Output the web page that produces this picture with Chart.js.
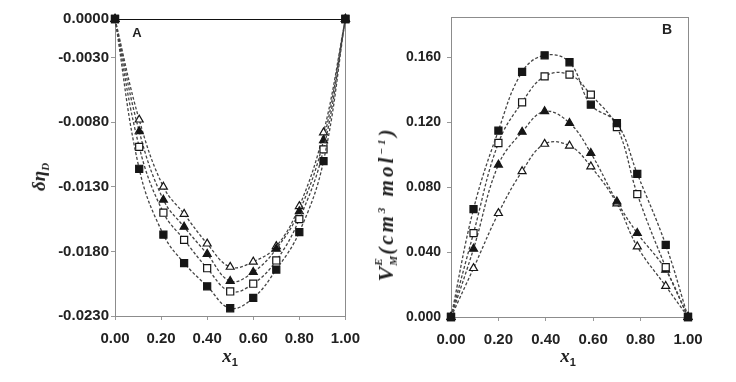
<!DOCTYPE html>
<html><head><meta charset="utf-8">
<script src="https://cdn.jsdelivr.net/npm/chart.js@4"></script>
<style>
html,body{margin:0;padding:0;background:#fff;}
#wrap{position:relative;width:736px;height:382px;overflow:hidden;background:#fff;}
canvas{position:absolute;top:0;}
#cA{left:0;}
#cB{left:370px;}
.lbl{position:absolute;font-family:"Liberation Sans",Arial,sans-serif;font-weight:bold;color:#222;white-space:nowrap;line-height:1;}
.math{font-family:"Liberation Serif","Times New Roman",serif;font-style:italic;font-weight:bold;}
.rot{transform:translate(-50%,-50%) rotate(-90deg);}
.ctr{transform:translate(-50%,-50%);}
.ss{position:relative;display:inline-block;width:12px;height:10px;font-size:11px;}
.ss .e{position:absolute;left:1px;top:-10px;}
.ss .m{position:absolute;left:1px;top:5px;}
sub,sup{font-size:11px;}
</style></head>
<body>
<div id="wrap">
<canvas id="cA" width="370" height="382"></canvas>
<canvas id="cB" width="366" height="382"></canvas>
<div class="lbl ctr" style="left:137px;top:32px;font-size:13px;">A</div>
<div class="lbl ctr" style="left:667px;top:29px;font-size:14px;">B</div>
<div class="lbl ctr" style="left:230px;top:357px;"><span class="math" style="font-size:19px;">x</span><sub style="font-size:11px;">1</sub></div>
<div class="lbl ctr" style="left:568px;top:357px;"><span class="math" style="font-size:19px;">x</span><sub style="font-size:11px;">1</sub></div>
<div class="lbl rot" style="left:40px;top:177px;"><span class="math" style="font-size:19px;">δη</span><sub class="math" style="font-size:11px;">D</sub></div>
<div class="lbl rot" style="left:386px;top:204px;"><span class="math" style="font-size:22px;">V</span><span class="ss math"><span class="e">E</span><span class="m">M</span></span><span class="math" style="font-size:21px;letter-spacing:3px;">(cm<sup>3</sup> mol<sup>−1</sup>)</span></div>
</div>
<script>
// ---- Panel A data (δη_D vs x1) ----
const xA = [0, 0.105, 0.21, 0.30, 0.40, 0.50, 0.60, 0.70, 0.80, 0.905, 1.0];
const aFilledSquare = [0, -0.0116, -0.0167, -0.0189, -0.0207, -0.0224, -0.0216, -0.0194, -0.0165, -0.0110, 0];
const aOpenSquare   = [0, -0.0099, -0.0150, -0.0171, -0.0193, -0.0211, -0.0205, -0.0187, -0.0155, -0.0101, 0];
const aFilledTri    = [0, -0.0087, -0.0140, -0.0161, -0.0182, -0.0203, -0.0196, -0.0178, -0.0149, -0.0094, 0];
const aOpenTri      = [0, -0.0078, -0.0130, -0.0151, -0.0174, -0.0192, -0.0188, -0.0176, -0.0145, -0.0088, 0];
const aYTicks = [0, -0.003, -0.008, -0.013, -0.018, -0.023];

// ---- Panel B data (V_M^E vs x1) ----
const xB = [0, 0.095, 0.20, 0.30, 0.395, 0.50, 0.59, 0.70, 0.786, 0.906, 1.0];
const bFilledSquare = [0, 0.0665, 0.1149, 0.1511, 0.1614, 0.1571, 0.1309, 0.1196, 0.0883, 0.0445, 0];
const bOpenSquare   = [0, 0.0517, 0.1073, 0.1324, 0.1484, 0.1495, 0.1371, 0.1171, 0.0758, 0.0307, 0];
const bFilledTri    = [0, 0.0420, 0.0939, 0.1141, 0.1268, 0.1196, 0.1011, 0.0712, 0.0517, 0.0290, 0];
const bOpenTri      = [0, 0.0301, 0.0640, 0.0898, 0.1067, 0.1056, 0.0928, 0.0700, 0.0434, 0.0191, 0];
const bYTicks = [0, 0.04, 0.08, 0.12, 0.16];

const xTicks = [0, 0.2, 0.4, 0.6, 0.8, 1.0];

function pts(xs, ys){ return xs.map((x,i)=>({x:x, y:ys[i]})); }
function ds(xs, ys, style, filled){
  return {
    data: pts(xs, ys), showLine: true, fill: false,
    borderColor: '#444', borderWidth: 1.3, borderDash: [3,2], tension: 0.4,
    pointStyle: style, pointRadius: style === 'rect' ? 5 : 4.6, pointHoverRadius: 5,
    pointBackgroundColor: filled ? '#161616' : '#ffffff',
    pointBorderColor: '#161616', pointBorderWidth: 1.2, clip: false
  };
}
const frame = {
  id: 'frame',
  beforeDatasetsDraw(chart, args, opts){
    const {ctx, chartArea: a} = chart;
    ctx.save();
    ctx.strokeStyle = '#8c8c8c'; ctx.lineWidth = 1;
    ctx.strokeRect(Math.round(a.left)+0.5, Math.round(a.top)+0.5, Math.round(a.right-a.left), Math.round(a.bottom-a.top));
    if (opts.topColor){
      ctx.strokeStyle = opts.topColor; ctx.lineWidth = 1.2;
      ctx.beginPath(); ctx.moveTo(a.left, Math.round(a.top)+0.5); ctx.lineTo(a.right, Math.round(a.top)+0.5); ctx.stroke();
    }
    ctx.restore();
  }
};
function tickFont(sz){ return {family: '"Liberation Sans", Arial, sans-serif', size: sz, weight: 'bold'}; }

function makeChart(id, xs, series, yMin, yMax, yTicks, yDec, opt){
  return new Chart(document.getElementById(id), {
    type: 'scatter',
    data: { datasets: [
      ds(xs, series[0], 'rect', true),
      ds(xs, series[1], 'rect', false),
      ds(xs, series[2], 'triangle', true),
      ds(xs, series[3], 'triangle', false)
    ]},
    plugins: [frame],
    options: {
      responsive: false, animation: false, devicePixelRatio: 1,
      layout: { padding: { left: 0, top: opt.top, right: opt.right, bottom: 0 } },
      plugins: { legend: {display:false}, tooltip: {enabled:false}, frame: {topColor: opt.topColor} },
      scales: {
        x: {
          type: 'linear', min: 0, max: 1,
          afterBuildTicks: s => { s.ticks = xTicks.map(v => ({value: v})); },
          afterFit: s => { s.height = opt.xh; },
          ticks: { callback: v => Number(v).toFixed(2), font: tickFont(15), color: '#222', padding: 10, maxRotation: 0, autoSkip: false },
          grid: { drawOnChartArea: false, tickLength: 4, color: '#999' },
          border: { color: '#999' }
        },
        y: {
          type: 'linear', min: yMin, max: yMax,
          afterBuildTicks: s => { s.ticks = yTicks.map(v => ({value: v})); },
          afterFit: s => { s.width = opt.yw; },
          ticks: { callback: v => Number(v).toFixed(yDec), font: tickFont(opt.yfs), color: '#222', padding: opt.ypad, autoSkip: false },
          grid: { drawOnChartArea: false, tickLength: 4, color: '#999' },
          border: { color: '#999' }
        }
      }
    }
  });
}

makeChart('cA', xA, [aFilledSquare, aOpenSquare, aFilledTri, aOpenTri], -0.023, 0, aYTicks, 4,
  {top: 19, right: 24, xh: 66, yw: 115, yfs: 15, ypad: 2, topColor: '#111'});
makeChart('cB', xB, [bFilledSquare, bOpenSquare, bFilledTri, bOpenTri], 0, 0.185, bYTicks, 3,
  {top: 17, right: 48, xh: 65, yw: 81, yfs: 14, ypad: 6, topColor: null});
</script>
</body></html>
